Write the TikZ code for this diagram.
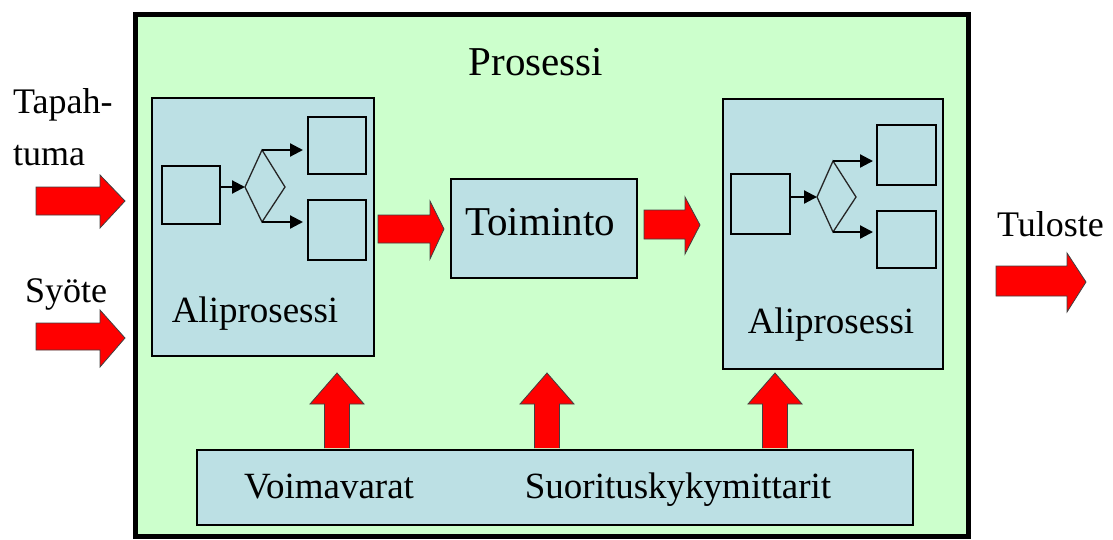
\documentclass[tikz,border=0pt]{standalone}
\usepackage{fontspec}
\setmainfont{Liberation Serif}
\usetikzlibrary{arrows.meta,calc}
\definecolor{procgreen}{RGB}{204,255,204}
\definecolor{subblue}{RGB}{188,224,228}
\begin{document}
\begin{tikzpicture}[x=1pt,y=-1pt,
  box/.style={draw=black, line width=2pt, fill=subblue, inner sep=0pt, anchor=north west},
  smallbox/.style={draw=black, line width=1.8pt, inner sep=0pt, anchor=north west},
  redarr/.style={fill=red, draw=black!75, line width=0.8pt, line join=miter},
  flowarr/.style={line width=2.2pt, -{Triangle[length=13pt,width=13pt]}},
  diam/.style={line width=1.3pt, draw=black!85},
  lbl/.style={anchor=base, inner sep=0pt, font=\fontsize{37}{40}\selectfont},
  lblw/.style={anchor=base west, inner sep=0pt, font=\fontsize{36}{40}\selectfont},
  big/.style={anchor=base, inner sep=0pt, font=\fontsize{41}{44}\selectfont}]
\useasboundingbox (0,0) rectangle (1113,539);
% outer process box
\node[draw=black, line width=5pt, fill=procgreen, inner sep=0pt, anchor=north west,
      minimum width=833pt, minimum height=522.5pt] (P) at (132.5,11.5) {};
\node[big] (ptitle) at (536,75) {Prosessi};

% left subprocess
\node[box, minimum width=222pt, minimum height=258pt] (L) at (151,97) {};
\node[smallbox, minimum width=58pt, minimum height=58pt] (li) at (161,165) {};
\node[smallbox, minimum width=58pt, minimum height=57pt] (lo1) at (307,116) {};
\node[smallbox, minimum width=58pt, minimum height=60pt] (lo2) at (307,199) {};
\coordinate (dLl) at (245,187);
\coordinate (dLt) at (262,150);
\coordinate (dLr) at (285,187);
\coordinate (dLb) at (262,222);
\draw[diam] (dLl) -- (dLt) -- (dLr) -- (dLb) -- cycle;
\draw[flowarr] (li.east |- dLl) -- (dLl);
\draw[flowarr] (dLt) -- ($(lo1.west |- dLt)+(-4,0)$);
\draw[flowarr] (dLb) -- ($(lo2.west |- dLb)+(-4,0)$);
\node[lbl] (Ltext) at (255,322) {Aliprosessi};

% right subprocess
\node[box, minimum width=220pt, minimum height=270pt] (R) at (722,98) {};
\node[smallbox, minimum width=59pt, minimum height=60pt] (ri) at (730,173) {};
\node[smallbox, minimum width=59pt, minimum height=60pt] (ro1) at (876,124) {};
\node[smallbox, minimum width=59pt, minimum height=57pt] (ro2) at (876,210) {};
\coordinate (dRl) at (817,197);
\coordinate (dRt) at (833,161);
\coordinate (dRr) at (856,197);
\coordinate (dRb) at (833,232);
\draw[diam] (dRl) -- (dRt) -- (dRr) -- (dRb) -- cycle;
\draw[flowarr] (ri.east |- dRl) -- (dRl);
\draw[flowarr] (dRt) -- ($(ro1.west |- dRt)+(-3,0)$);
\draw[flowarr] (dRb) -- ($(ro2.west |- dRb)+(-3,0)$);
\node[lbl] (Rtext) at (831,333) {Aliprosessi};

% Toiminto
\node[box, minimum width=186pt, minimum height=99pt] (T) at (450,178) {};
\node[big] (Ttext) at (540,235) {Toiminto};

% resources box
\node[box, minimum width=716pt, minimum height=75pt] (B) at (196,449) {};
\node[lbl] (btext1) at (329,498) {Voimavarat};
\node[lbl] (btext2) at (678,498) {Suorituskykymittarit};

% outside labels
\node[lblw] (tap1) at (13,113) {Tapah-};
\node[lblw] (tap2) at (13,165) {tuma};
\node[lblw] (syo) at (25,302) {Syöte};
\node[lblw] (tul) at (997,236) {Tuloste};

% red block arrows (horizontal)
\draw[redarr] (36,187) -- (100,187) -- (100,175) -- (125,201) -- (100,228) -- (100,215) -- (36,215) -- cycle;
\draw[redarr] (36,323) -- (100,323) -- (100,310) -- (125,338) -- (100,367) -- (100,350) -- (36,350) -- cycle;
\draw[redarr] (378,215) -- (430,215) -- (430,201) -- (444,229) -- (430,259) -- (430,243) -- (378,243) -- cycle;
\draw[redarr] (644,210) -- (685,210) -- (685,197) -- (700,225) -- (685,254) -- (685,239) -- (644,239) -- cycle;
\draw[redarr] (996,266) -- (1067,266) -- (1067,253) -- (1086,282) -- (1067,312) -- (1067,296) -- (996,296) -- cycle;

% red block arrows (upward)
\foreach \c in {337,547,775}{
  \draw[redarr] (\c-12.5,448) -- (\c-12.5,404) -- (\c-27,404) -- (\c,373) -- (\c+27,404) -- (\c+12.5,404) -- (\c+12.5,448);
}
\end{tikzpicture}
\end{document}
